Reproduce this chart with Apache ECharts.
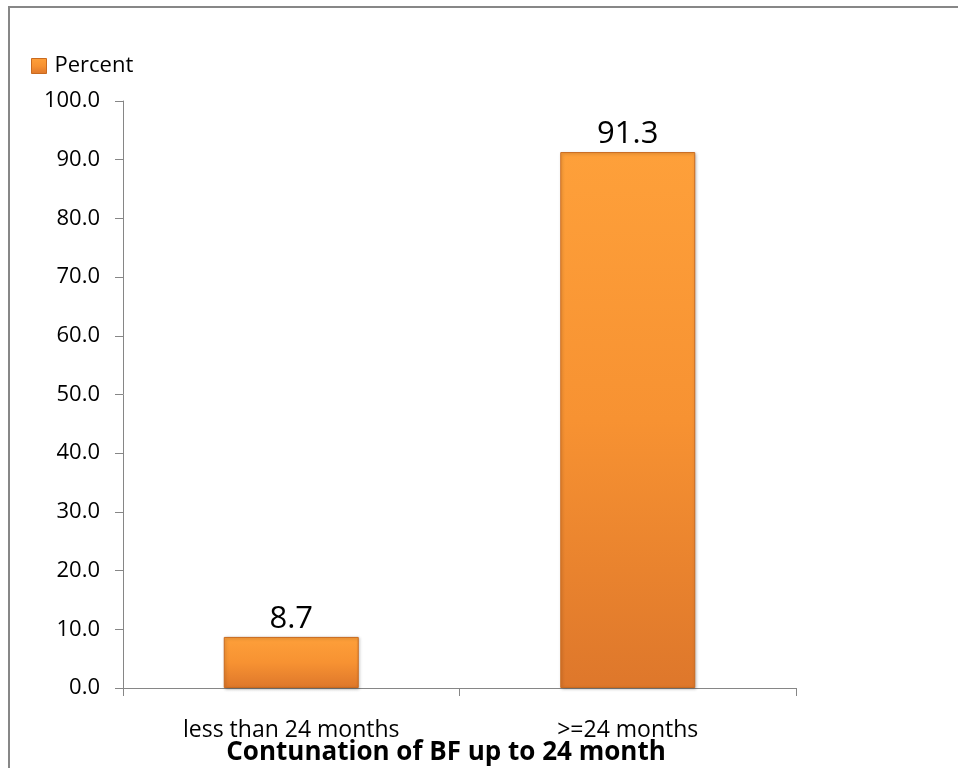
<!DOCTYPE html>
<html>
<head>
<meta charset="utf-8">
<script src="https://cdn.jsdelivr.net/npm/echarts@6/dist/echarts.min.js"></script>
<style>
  html, body { margin: 0; padding: 0; background: #fff; }
  #chart { width: 958px; height: 768px; }
</style>
</head>
<body>
<div id="chart"></div>
<script>
// Breastfeeding continuation up to 24 months
const categories = ['less than 24 months', '>=24 months'];
const percentValues = [8.7, 91.3];
const seriesName = 'Percent';
const chartTitle = 'Contunation of BF up to 24 month';

const chart = echarts.init(document.getElementById('chart'));

const barFill = new echarts.graphic.LinearGradient(0, 0, 0, 1, [
  { offset: 0, color: '#fea03a' },
  { offset: 0.5, color: '#f79232' },
  { offset: 1, color: '#de772b' }
]);

chart.setOption({
  animation: false,
  backgroundColor: '#fff',
  title: {
    text: chartTitle,
    left: 441,
    top: 735,
    textAlign: 'center',
    textStyle: {
      fontFamily: 'Open Sans, sans-serif',
      fontSize: 26,
      fontWeight: 'bold',
      color: '#000'
    }
  },
  legend: {
    left: 31,
    top: 55,
    padding: 0,
    itemWidth: 15,
    itemHeight: 15,
    icon: 'rect',
    itemStyle: { borderColor: '#c96a1f', borderWidth: 1 },
    textStyle: {
      fontFamily: 'Open Sans, sans-serif',
      fontSize: 22,
      color: '#000',
      padding: [0, 0, 0, 3]
    },
    data: [seriesName]
  },
  grid: { left: 123, right: 162, top: 101, bottom: 80 },
  xAxis: {
    type: 'category',
    data: categories,
    axisLine: { lineStyle: { color: '#868686', width: 1 } },
    axisTick: { show: true, length: 8, lineStyle: { color: '#868686' } },
    axisLabel: {
      margin: 31,
      fontFamily: 'Open Sans, sans-serif',
      fontSize: 23,
      color: '#000'
    }
  },
  yAxis: {
    type: 'value',
    min: 0,
    max: 100,
    interval: 10,
    axisLine: { show: true, lineStyle: { color: '#868686', width: 1 } },
    axisTick: { show: true, length: 8, lineStyle: { color: '#868686' } },
    splitLine: { show: false },
    axisLabel: {
      margin: 23,
      formatter: v => v.toFixed(1),
      fontFamily: 'Open Sans, sans-serif',
      fontSize: 22,
      color: '#000'
    }
  },
  series: [{
    name: seriesName,
    type: 'bar',
    data: percentValues,
    barWidth: 135,
    itemStyle: {
      color: barFill,
      borderColor: '#c96a1f',
      borderWidth: 1,
      shadowColor: 'rgba(0,0,0,0.25)',
      shadowBlur: 3,
      shadowOffsetX: 1,
      shadowOffsetY: 1
    },
    label: {
      show: true,
      position: 'top',
      distance: 2,
      formatter: p => p.value.toFixed(1),
      fontFamily: 'Open Sans, sans-serif',
      fontSize: 31,
      color: '#000'
    }
  }],
  graphic: [{
    type: 'rect',
    shape: { x: 9, y: 7, width: 960, height: 780 },
    style: { fill: 'none', stroke: '#878787', lineWidth: 2 },
    silent: true
  }]
});
</script>
</body>
</html>
